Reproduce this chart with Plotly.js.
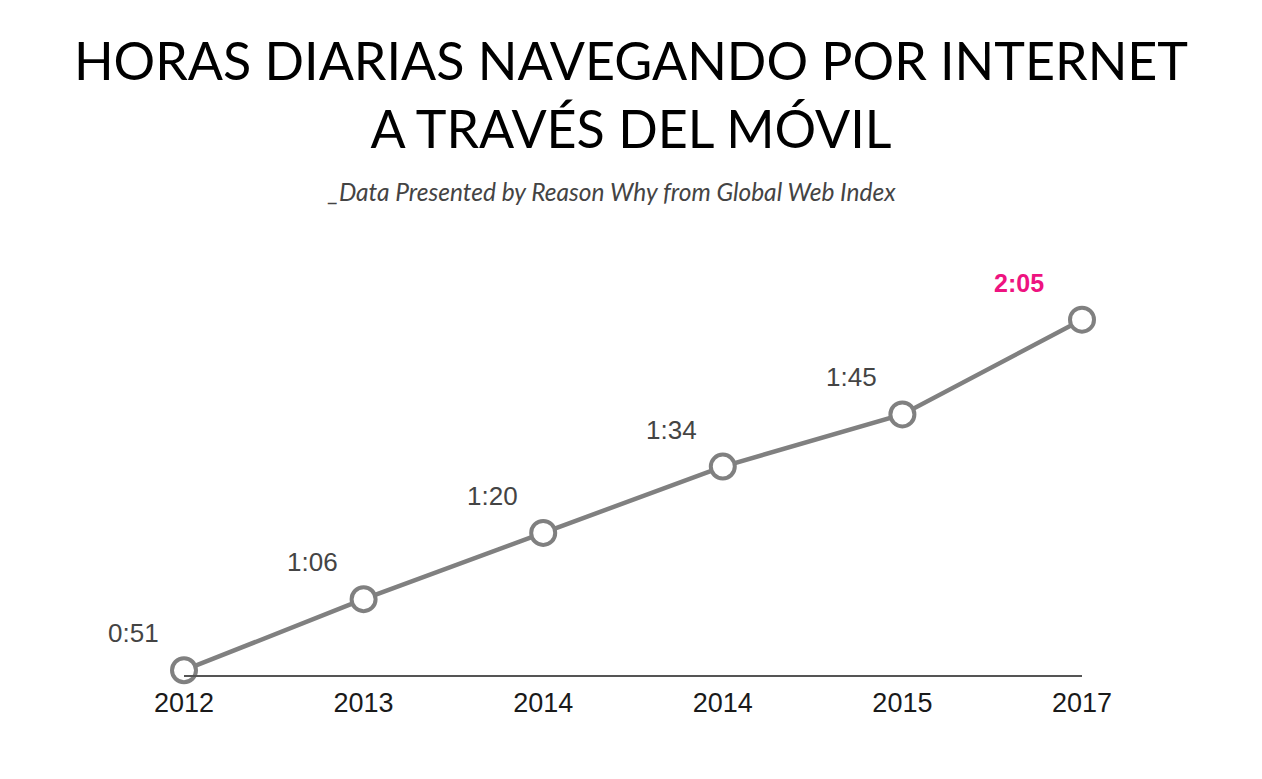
<!DOCTYPE html>
<html>
<head>
<meta charset="utf-8">
<script src="https://cdn.plot.ly/plotly-3.0.1.min.js"></script>
<style>html,body{margin:0;padding:0;background:#fff;}#chart{width:1262px;height:779px;}</style>
</head>
<body>
<div id="chart"></div>
<script>
const years = ["2012", "2013", "2014", "2014", "2015", "2017"];
const minutes = [51, 66, 80, 94, 105, 125];
const labels = ["0:51", "1:06", "1:20", "1:34", "1:45", "2:05"];

const xpos = years.map((_, i) => i);

const annotations = labels.map((t, i) => {
  const last = i === labels.length - 1;
  return {
    x: xpos[i], y: minutes[i], xref: 'x', yref: 'y',
    text: last ? '<b>' + t + '</b>' : t,
    showarrow: false, xanchor: 'center', yanchor: 'middle',
    xshift: last ? -63 : -51, yshift: 37,
    font: {family: 'Liberation Sans, Arial, sans-serif', size: last ? 25 : 26, color: last ? '#ee1380' : '#444444'}
  };
});
annotations.push({
  xref: 'paper', yref: 'paper', x: 0.476, y: 1.277,
  xanchor: 'center', yanchor: 'middle',
  text: '<i>_Data Presented by Reason Why from Global Web Index</i>',
  showarrow: false,
  font: {family: 'Lato, sans-serif', size: 24.5, color: '#444444'}
});

Plotly.newPlot('chart', [{
  x: xpos, y: minutes, type: 'scatter', mode: 'lines+markers',
  line: {color: '#808080', width: 4.5},
  marker: {size: 24, color: '#ffffff', line: {color: '#808080', width: 4}},
  cliponaxis: false, hoverinfo: 'skip'
}], {
  width: 1262, height: 779,
  margin: {l: 184, r: 180, t: 296, b: 104},
  paper_bgcolor: '#ffffff', plot_bgcolor: '#ffffff',
  showlegend: false,
  title: {
    text: 'HORAS DIARIAS NAVEGANDO POR INTERNET<br>A TRAVÉS DEL MÓVIL',
    x: 0.5, xanchor: 'center', xref: 'container',
    y: 1 - 80 / 779, yanchor: 'middle', yref: 'container',
    font: {family: 'Lato, sans-serif', size: 52, color: '#000000', weight: 400}
  },
  xaxis: {
    range: [0, 5], tickvals: xpos, ticktext: years,
    showgrid: false, zeroline: false, showline: true,
    linecolor: '#555555', linewidth: 2, ticks: '',
    tickfont: {family: 'Liberation Sans, Arial, sans-serif', size: 27, color: '#1a1a1a'},
    ticklabelstandoff: 3
  },
  yaxis: {
    range: [50, 130], visible: false, showgrid: false, zeroline: false
  },
  annotations: annotations
}, {displayModeBar: false, staticPlot: true});
</script>
</body>
</html>
